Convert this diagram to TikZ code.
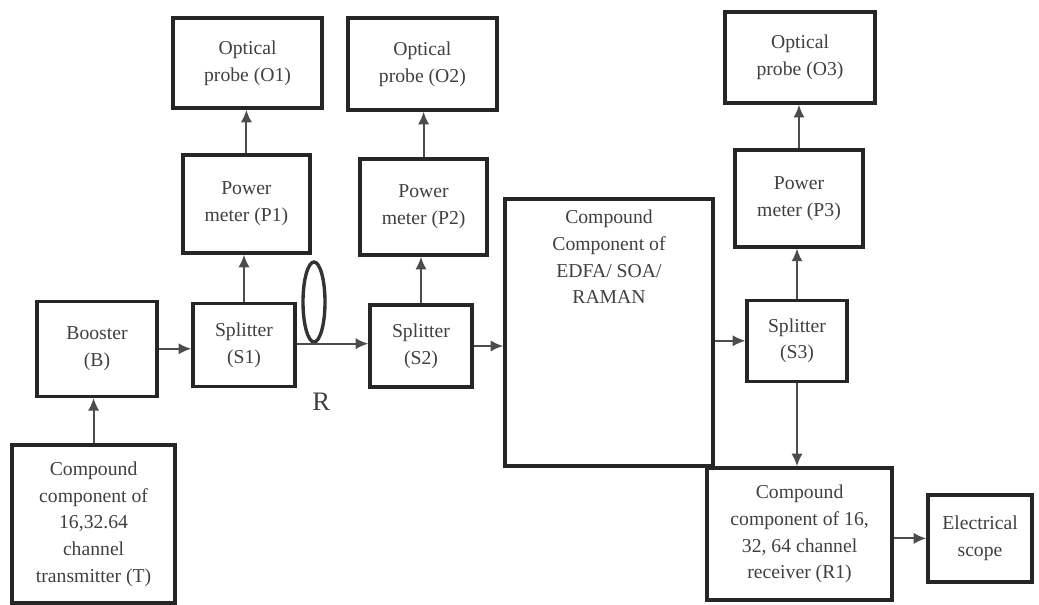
\documentclass[tikz,border=0pt]{standalone}
\usepackage{fontspec}
\setmainfont{Liberation Serif}
\usetikzlibrary{arrows.meta}
\usetikzlibrary{shapes.geometric}

\begin{document}
\begin{tikzpicture}
\tikzset{every node/.style={font=\fontsize{14}{19}\selectfont, text=black!75}}
\tikzset{blk/.style={draw=black!85, line width=2.4pt, align=center, inner sep=2pt}}
\tikzset{link/.style={draw=black!70, line width=1.4pt, -{Latex[length=9pt,width=8pt]}}}
\useasboundingbox (0,0) rectangle (25.975,-15.125);
% probes
\node[blk, minimum width=3.725cm, minimum height=2.25cm] (O1) at (6.19,-1.575) {Optical\\probe (O1)};
\node[blk, minimum width=3.725cm, minimum height=2.3cm] (O2) at (10.56,-1.6) {Optical\\probe (O2)};
\node[blk, minimum width=3.75cm, minimum height=2.275cm] (O3) at (20.0,-1.44) {Optical\\probe (O3)};
% power meters
\node[blk, minimum width=3.175cm, minimum height=2.45cm] (P1) at (6.16,-5.1) {Power\\meter (P1)};
\node[blk, minimum width=3.175cm, minimum height=2.4cm] (P2) at (10.59,-5.175) {Power\\meter (P2)};
\node[blk, minimum width=3.2cm, minimum height=2.425cm] (P3) at (19.975,-4.96) {Power\\meter (P3)};
% main line
\node[blk, minimum width=3.0cm, minimum height=2.375cm] (B) at (2.425,-8.72) {Booster\\(B)};
\node[blk, minimum width=2.55cm, minimum height=2.075cm] (S1) at (6.1,-8.63) {Splitter\\(S1)};
\node[blk, minimum width=2.55cm, minimum height=2.05cm] (S2) at (10.525,-8.65) {Splitter\\(S2)};
\node[blk, minimum width=5.2cm, minimum height=6.675cm,
  label={[anchor=north, align=center, yshift=-0.2cm]north:Compound\\Component of\\EDFA/ SOA/\\RAMAN}] (Amp) at (15.225,-8.31) {};
\node[blk, minimum width=2.5cm, minimum height=2.025cm] (S3) at (19.925,-8.52) {Splitter\\(S3)};
% fibre coil
\node[draw=black!80, line width=2.4pt, ellipse, minimum width=0.55cm, minimum height=2cm, inner sep=0pt] (coil) at (7.85,-7.55) {};
\node[font=\fontsize{19}{22}\selectfont] (lblR) at (8.03,-10.05) {R};
% end boxes
\node[blk, minimum width=4.075cm, minimum height=3.95cm] (T) at (2.34,-13.1) {Compound\\component of\\16,32.64\\channel\\transmitter (T)};
\node[blk, minimum width=4.625cm, minimum height=3.3cm] (R1) at (19.99,-13.35) {Compound\\component of 16,\\32, 64 channel\\receiver (R1)};
\node[blk, minimum width=2.6cm, minimum height=2.175cm] (Sc) at (24.5,-13.46) {Electrical\\scope};
% connectors
\draw[link] (T.north) -- (B.south -| T.north);
\draw[link] (B.east) -- (S1.west |- B.east);
\draw[link] (S1.east |- coil.south) -- (S2.west |- coil.south);
\draw[link] (S2.east) -- (Amp.west |- S2.east);
\draw[link] (Amp.east |- S3.west) -- (S3.west);
\draw[link] (S1.north) -- (S1.north |- P1.south);
\draw[link] (P1.north) -- (P1.north |- O1.south);
\draw[link] (S2.north) -- (S2.north |- P2.south);
\draw[link] (P2.north) -- (P2.north |- O2.south);
\draw[link] (S3.north) -- (S3.north |- P3.south);
\draw[link] (P3.north) -- (P3.north |- O3.south);
\draw[link] (S3.south) -- (S3.south |- R1.north);
\draw[link] (Sc.west -| R1.east) -- (Sc.west);
\end{tikzpicture}
\end{document}
